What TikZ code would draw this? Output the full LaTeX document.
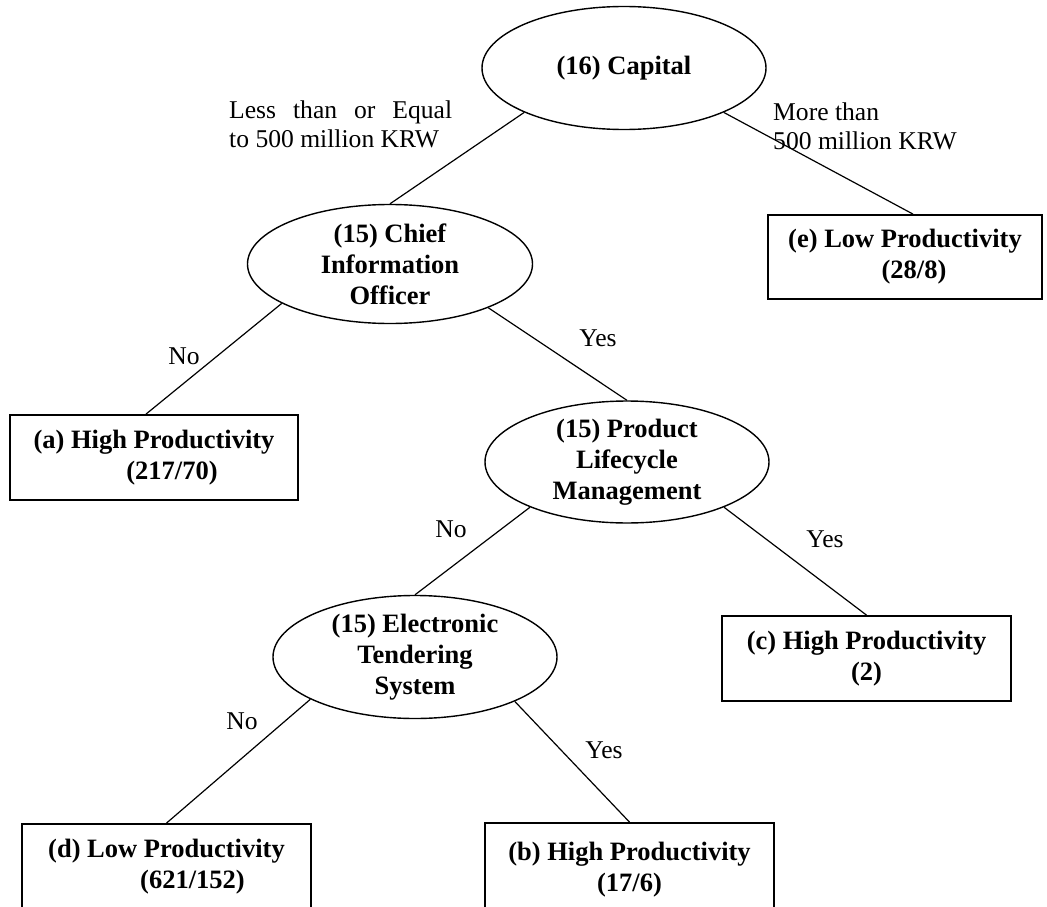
\documentclass[tikz,border=0pt]{standalone}
\usepackage{fontspec}
\setmainfont{Liberation Serif}
\usetikzlibrary{shapes.geometric,calc}
\begin{document}
\begin{tikzpicture}[x=1pt,y=-1pt,
  oval/.style={ellipse,draw,line width=1.4pt,inner sep=0pt,align=center,font=\fontsize{26.5}{31}\selectfont\bfseries},
  leaf/.style={rectangle,draw,line width=1.8pt,inner sep=0pt,align=center,font=\fontsize{26.5}{31}\selectfont\bfseries},
  lbl/.style={inner sep=0pt,font=\fontsize{25.6}{30}\selectfont},
  edge/.style={line width=1.2pt}]
\useasboundingbox (0,0) rectangle (1047,907);
% decision nodes
\node[oval,minimum width=284pt,minimum height=123pt] (cap) at (624,68) {(16) Capital};
\node[oval,minimum width=285pt,minimum height=119pt] (cio) at (390,264) {(15) Chief\\Information\\Officer};
\node[oval,minimum width=284pt,minimum height=119pt] (plm) at (627,462) {(15) Product\\Lifecycle\\Management};
\node[oval,minimum width=284pt,minimum height=123pt] (ets) at (415,657) {(15) Electronic\\Tendering\\System};
% leaves
\node[leaf,minimum width=274pt,minimum height=84pt] (e) at (905,257) {(e) Low Productivity\\\hspace*{18pt}(28/8)};
\node[leaf,minimum width=288pt,minimum height=85pt] (a) at (154,457.5) {(a) High Productivity\\\hspace*{36pt}(217/70)};
\node[leaf,minimum width=289pt,minimum height=85pt] (c) at (866.5,658.5) {(c) High Productivity\\(2)};
\node[leaf,minimum width=289pt,minimum height=86pt] (d) at (166.5,867) {(d) Low Productivity\\\hspace*{52pt}(621/152)};
\node[leaf,minimum width=289pt,minimum height=94pt] (b) at (629.5,870) {(b) High Productivity\\(17/6)};
% connectors
\draw[edge] (cap.204) -- (cio.north);
\draw[edge] (cap.336) -- ($(e.north)+(8,0)$);
\draw[edge] (cio.200.8) -- ($(a.north)+(-8,0)$);
\draw[edge] (cio.336.7) -- (plm.north);
\draw[edge] (plm.205.9) -- (ets.north);
\draw[edge] (plm.335.8) -- (c.north);
\draw[edge] (ets.202.9) -- (d.north);
\draw[edge] (ets.336.2) -- (b.north);
% edge labels
\node[lbl,anchor=base west] (l1a) at (229,118) {\makebox[223pt][s]{Less than or Equal}};
\node[lbl,anchor=base west] (l1b) at (229,147) {to 500 million KRW};
\node[lbl,anchor=base west] (r1a) at (773,120) {More than};
\node[lbl,anchor=base west] (r1b) at (773,149) {500 million KRW};
\node[lbl,anchor=base] (n1) at (184,364) {No};
\node[lbl,anchor=base] (y1) at (598,346) {Yes};
\node[lbl,anchor=base] (n2) at (451,537) {No};
\node[lbl,anchor=base] (y2) at (825,547) {Yes};
\node[lbl,anchor=base] (n3) at (242,729) {No};
\node[lbl,anchor=base] (y3) at (604,758) {Yes};
\end{tikzpicture}
\end{document}
